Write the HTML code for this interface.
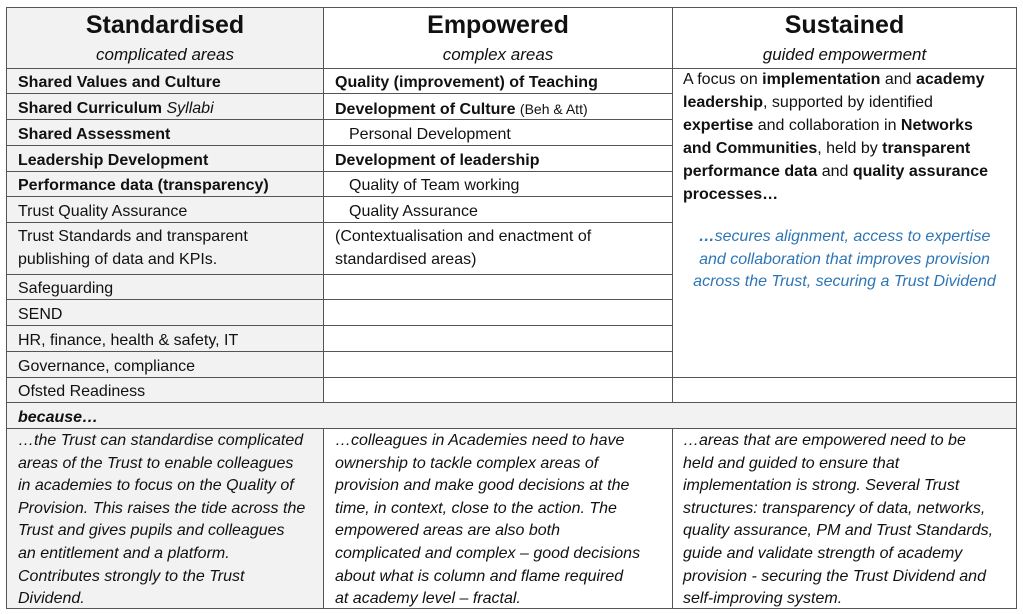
<!DOCTYPE html>
<html><head><meta charset="utf-8"><style>
body{margin:0;width:1023px;height:614px;background:#fff;position:relative;overflow:hidden;font-family:"Liberation Sans",sans-serif;color:#111}
.b{position:absolute;background:#555}
.g{position:absolute;background:#f2f2f2}
.t{position:absolute;white-space:nowrap;font-size:16px;line-height:20px}
.c{text-align:center}
.h{font-weight:bold;font-size:25px;line-height:30px}
.i{font-style:italic}
.bl{color:#2e75b6}
</style></head><body>
<div class="g" style="left:6px;top:7px;width:318px;height:601px"></div>
<div class="g" style="left:6px;top:403px;width:1010px;height:25px"></div>
<div class="b" style="left:6px;top:7px;width:1011px;height:1px"></div>
<div class="b" style="left:6px;top:608px;width:1011px;height:1px"></div>
<div class="b" style="left:6px;top:7px;width:1px;height:602px"></div>
<div class="b" style="left:1016px;top:7px;width:1px;height:602px"></div>
<div class="b" style="left:323px;top:7px;width:1px;height:396px"></div>
<div class="b" style="left:672px;top:7px;width:1px;height:396px"></div>
<div class="b" style="left:323px;top:428px;width:1px;height:180px"></div>
<div class="b" style="left:672px;top:428px;width:1px;height:180px"></div>
<div class="b" style="left:6px;top:68px;width:1011px;height:1px"></div>
<div class="b" style="left:6px;top:93px;width:667px;height:1px"></div>
<div class="b" style="left:6px;top:119px;width:667px;height:1px"></div>
<div class="b" style="left:6px;top:145px;width:667px;height:1px"></div>
<div class="b" style="left:6px;top:171px;width:667px;height:1px"></div>
<div class="b" style="left:6px;top:196px;width:667px;height:1px"></div>
<div class="b" style="left:6px;top:222px;width:667px;height:1px"></div>
<div class="b" style="left:6px;top:274px;width:667px;height:1px"></div>
<div class="b" style="left:6px;top:299px;width:667px;height:1px"></div>
<div class="b" style="left:6px;top:325px;width:667px;height:1px"></div>
<div class="b" style="left:6px;top:351px;width:667px;height:1px"></div>
<div class="b" style="left:6px;top:377px;width:1011px;height:1px"></div>
<div class="b" style="left:6px;top:402px;width:1011px;height:1px"></div>
<div class="b" style="left:6px;top:428px;width:1011px;height:1px"></div>

<div class="t c h" style="left:6px;width:318px;top:10px">Standardised</div>
<div class="t c i" style="left:6px;width:318px;top:45px;font-size:17px">complicated areas</div>
<div class="t c h" style="left:323px;width:350px;top:10px">Empowered</div>
<div class="t c i" style="left:323px;width:350px;top:45px;font-size:17px">complex areas</div>
<div class="t c h" style="left:672px;width:345px;top:10px">Sustained</div>
<div class="t c i" style="left:672px;width:345px;top:45px;font-size:17px">guided empowerment</div>

<div class="t" style="left:18px;top:73px"><b>Shared Values and Culture</b></div>
<div class="t" style="left:18px;top:99px"><b>Shared Curriculum</b> <i>Syllabi</i></div>
<div class="t" style="left:18px;top:125px"><b>Shared Assessment</b></div>
<div class="t" style="left:18px;top:151px"><b>Leadership Development</b></div>
<div class="t" style="left:18px;top:176px"><b>Performance data (transparency)</b></div>
<div class="t" style="left:18px;top:202px">Trust Quality Assurance</div>
<div class="t" style="left:18px;top:227px">Trust Standards and transparent</div>
<div class="t" style="left:18px;top:250px">publishing of data and KPIs.</div>
<div class="t" style="left:18px;top:279px">Safeguarding</div>
<div class="t" style="left:18px;top:305px">SEND</div>
<div class="t" style="left:18px;top:331px">HR, finance, health &amp; safety, IT</div>
<div class="t" style="left:18px;top:357px">Governance, compliance</div>
<div class="t" style="left:18px;top:382px">Ofsted Readiness</div>
<div class="t i" style="left:18px;top:408px"><b>because…</b></div>

<div class="t" style="left:335px;top:73px"><b>Quality (improvement) of Teaching</b></div>
<div class="t" style="left:335px;top:99px"><b>Development of Culture</b> <span style="font-size:14px">(Beh &amp; Att)</span></div>
<div class="t" style="left:349px;top:125px">Personal Development</div>
<div class="t" style="left:335px;top:151px"><b>Development of leadership</b></div>
<div class="t" style="left:349px;top:176px">Quality of Team working</div>
<div class="t" style="left:349px;top:202px">Quality Assurance</div>
<div class="t" style="left:335px;top:227px">(Contextualisation and enactment of</div>
<div class="t" style="left:335px;top:250px">standardised areas)</div>

<div class="t" style="left:683px;top:68px;line-height:23px">A focus on <b>implementation</b> and <b>academy</b><br><b>leadership</b>, supported by identified<br><b>expertise</b> and collaboration in <b>Networks</b><br><b>and Communities</b>, held by <b>transparent</b><br><b>performance data</b> and <b>quality assurance</b><br><b>processes…</b></div>
<div class="t c i bl" style="left:672px;width:345px;top:226px;line-height:22.5px"><b>…</b>secures alignment, access to expertise<br>and collaboration that improves provision<br>across the Trust, securing a Trust Dividend</div>

<div class="t i" style="left:18px;top:430px;line-height:22.6px">…the Trust can standardise complicated<br>areas of the Trust to enable colleagues<br>in academies to focus on the Quality of<br>Provision. This raises the tide across the<br>Trust and gives pupils and colleagues<br>an entitlement and a platform.<br>Contributes strongly to the Trust<br>Dividend.</div>
<div class="t i" style="left:335px;top:430px;line-height:22.6px">…colleagues in Academies need to have<br>ownership to tackle complex areas of<br>provision and make good decisions at the<br>time, in context, close to the action. The<br>empowered areas are also both<br>complicated and complex – good decisions<br>about what is column and flame required<br>at academy level – fractal.</div>
<div class="t i" style="left:683px;top:430px;line-height:22.6px">…areas that are empowered need to be<br>held and guided to ensure that<br>implementation is strong. Several Trust<br>structures: transparency of data, networks,<br>quality assurance, PM and Trust Standards,<br>guide and validate strength of academy<br>provision - securing the Trust Dividend and<br>self-improving system.</div>
</body></html>
